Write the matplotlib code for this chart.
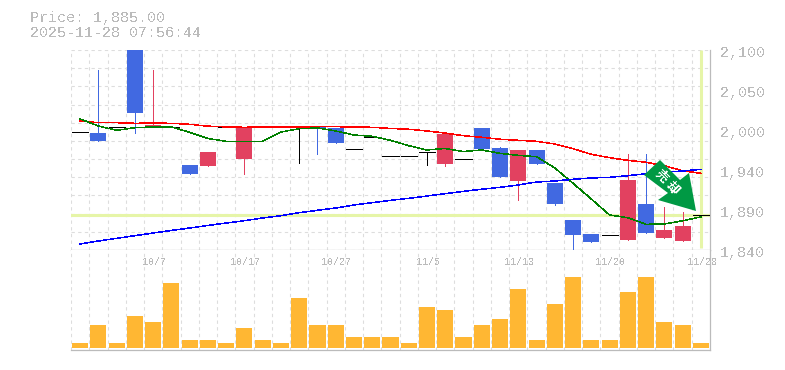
"""Candlestick chart with moving averages and volume."""

import matplotlib
matplotlib.use("Agg")
import matplotlib.pyplot as plt
from matplotlib.patches import Polygon, Rectangle

W, H = 785, 370

# daily prices, oldest first (doji days have open == close)
opens = [1993, 1992, 2000, 2100, 2000, 2000, 1950.5, 1949, 2000, 1958, 1999.5, 1999.5, 1999.5,
         2000, 1998.6, 1971, 1987, 1962, 1962, 1967, 1952, 1958, 1998.6, 1972.6, 1930, 1970,
         1927, 1879, 1861, 1859, 1853, 1900, 1855.6, 1851.7, 1885]
closes = [1993, 1982, 2000, 2018.5, 2002.5, 2000, 1939, 1967.4, 2000, 2000, 1999.5, 1999.5, 1999.5,
          1997, 1979.5, 1971, 1987, 1962, 1962, 1967, 1991, 1958, 1971.7, 1935, 1970, 1952,
          1900, 1859.5, 1850.4, 1859, 1931, 1862, 1866, 1871, 1885]
highs = [1993, 2074, 2000, 2100, 2074, 2000, 1950.5, 1967.4, 2000, 2000, 1999.5, 1999.5, 1999.5,
         2000, 1998.6, 1971, 1987, 1962, 1962, 1967, 1992, 1958, 1998.6, 1974, 1970, 1970,
         1927, 1879, 1861, 1859, 1965, 1965, 1896, 1890, 1885]
lows = [1993, 1982, 2000, 1992.5, 2000, 2000, 1939, 1949, 2000, 1939, 1999.5, 1999.5, 1952.7,
        1965, 1979.5, 1971, 1987, 1962, 1962, 1951, 1949.6, 1958, 1971.7, 1935, 1905.4, 1952,
        1898.5, 1840, 1850.4, 1859, 1853, 1862, 1855.6, 1851.7, 1885]

ma_red = [2007.7, 2005.5, 2005.5, 2004.7, 2005, 2004.7, 2003.4, 2001, 2000, 1999.5, 1999.9, 1999.9,
          1999.9, 2000.3, 2000.3, 2000, 1999.5, 1998, 1997, 1994.7, 1992, 1988.6, 1986.5, 1984,
          1982.6, 1981.3, 1977.8, 1971.7, 1964.4, 1960, 1956.6, 1954, 1949.6, 1943, 1939.7]
ma_green = [2010.3, 2001.2, 1995.6, 1999, 2000, 2000, 1993, 1985, 1981.3, 1981.3, 1981.3, 1993.4,
            1997.7, 1998.6, 1994.7, 1989.5, 1987.8, 1982.6, 1975.6, 1970, 1972, 1968, 1970, 1965.7,
            1963, 1961.3, 1946.6, 1926.7, 1906.3, 1885.5, 1882, 1873.4, 1873.8, 1878, 1883]
ma_blue = [1847.8, 1851.7, 1855.2, 1858.6, 1862.1, 1865.4, 1868.6, 1871.9, 1875.1, 1878.1, 1881.6,
           1884.6, 1888.5, 1891.6, 1894.6, 1898.5, 1901.5, 1904.6, 1907.2, 1910.2, 1913.2, 1916.3,
           1919, 1921.5, 1924.5, 1928.4, 1929.7, 1931.9, 1933.6, 1934.5, 1936.6, 1939.2, 1941.4,
           1942.7, 1944.9]

volumes = [500, 2300, 500, 3200, 2600, 6500, 800, 800, 500, 2000, 800, 500, 5000, 2300, 2300, 1100,
           1100, 1100, 500, 4100, 3800, 1100, 2300, 2900, 5900, 800, 4400, 7100, 800, 800, 5600,
           7100, 2600, 2300, 500]

date_ticks = [4, 9, 14, 19, 24, 29, 34]
date_labels = ["10/7", "10/17", "10/27", "11/5", "11/13", "11/20", "11/28"]
price_ticks = [2100, 2048, 1996, 1944, 1892, 1840]
price_labels = ["2,100", "2,050", "2,000", "1,940", "1,890", "1,840"]
last_price = 1885

BLUE = "#4169e1"
RED = "#e24160"
ORANGE = "#ffb733"
LIME = "#e6f5a8"
GRAY = "#bbbbbb"
GRID = "#dddddd"
FONT = "Liberation Mono"
THIN = 0.55
MA_WIDTH = 0.36

plt.rcParams["text.antialiased"] = False


def panel(top, bottom):
    ax = fig.add_axes([71 / W, 1 - bottom / H, (710 - 71) / W, (bottom - top) / H])
    ax.set_xlim(-0.5, 34.5)
    ax.set_xticks([i - 0.5 for i in range(35)])
    ax.tick_params(length=0, labelbottom=False, labelleft=False)
    ax.grid(True, axis="x", color=GRID, lw=0.8, ls=(0, (3, 3)))
    ax.set_axisbelow(True)
    for side in ("left", "top"):
        ax.spines[side].set_visible(False)
    for side in ("right", "bottom"):
        ax.spines[side].set_color(GRAY)
        ax.spines[side].set_linewidth(0.9)
    return ax


fig = plt.figure(figsize=(W / 100, H / 100), dpi=100)

# price panel
ax = panel(50, 250)
ax.set_ylim(1840, 2100)
ax.set_yticks([1840 + 260 * i / 11 for i in range(12)])
ax.grid(True, axis="y", color=GRID, lw=0.8, ls=(0, (3, 3)))
ax.axhline(last_price, color=LIME, lw=2.2, zorder=1)
ax.plot([34, 34], [1842, 2100], color=LIME, lw=2.2, zorder=1, solid_capstyle="butt")

for i in range(35):
    if closes[i] > opens[i]:
        color = RED
    elif closes[i] < opens[i]:
        color = BLUE
    else:
        color = "black"
    ax.plot([i, i], [lows[i], highs[i]], color=color, lw=THIN, zorder=3, solid_capstyle="butt",
            antialiased=False)
    if color == "black":
        ax.plot([i - 0.44, i + 0.44], [opens[i], opens[i]], color=color, lw=THIN, zorder=3,
                solid_capstyle="butt", antialiased=False)
    else:
        bottom = min(opens[i], closes[i])
        ax.add_patch(Rectangle((i - 0.44, bottom), 0.88, abs(closes[i] - opens[i]), fc=color,
                               ec="none", zorder=3))

xs = list(range(35))
ax.plot(xs, ma_red, color="#ff0000", lw=MA_WIDTH, zorder=4, antialiased=False)
ax.plot(xs, ma_green, color="#008000", lw=MA_WIDTH, zorder=4, antialiased=False)
ax.plot(xs, ma_blue, color="#0000ff", lw=MA_WIDTH, zorder=4, antialiased=False)

for value, label in zip(price_ticks, price_labels):
    ax.annotate(label, xy=(1, value), xycoords=ax.get_yaxis_transform(), xytext=(7.2, -2.2),
                textcoords="offset points", ha="left", va="center", color=GRAY, family=FONT,
                fontsize=10.8)

# signal arrow, placed in pixels like the stamp in the original
arrow_px = [(660, 160), (680, 180), (689, 173), (696, 211), (658, 200), (668, 193), (644, 175)]
fig.add_artist(Polygon([(x / W, 1 - y / H) for x, y in arrow_px], closed=True, fc="#009944",
                       ec="none", transform=fig.transFigure, zorder=6))
fig.text(661 / W, 1 - 176 / H, "売", color="white", fontsize=9, ha="center", va="center",
         rotation=-45, family=["Noto Sans CJK JP", "DejaVu Sans"], weight="bold", zorder=7)
fig.text(672 / W, 1 - 188 / H, "却", color="white", fontsize=9, ha="center", va="center",
         rotation=-45, family=["Noto Sans CJK JP", "DejaVu Sans"], weight="bold", zorder=7)

# volume panel
vax = panel(250, 350)
vax.set_ylim(-230, 9800)
vax.set_yticks([])
vax.bar(xs, volumes, width=0.88, color=ORANGE, zorder=3)

for tick, label in zip(date_ticks, date_labels):
    vax.annotate(label, xy=(tick, 1), xycoords=vax.get_xaxis_transform(), xytext=(0.7, -8.6),
                 textcoords="offset points", ha="center", va="center", color=GRAY, family=FONT,
                 fontsize=7.2, zorder=5)

fig.text(30 / W, 1 - 18 / H, "Price: 1,885.00", color=GRAY, family=FONT, fontsize=10.8, va="center")
fig.text(30 / W, 1 - 33 / H, "2025-11-28 07:56:44", color=GRAY, family=FONT, fontsize=10.8, va="center")

fig.savefig("out.png", dpi=100)
